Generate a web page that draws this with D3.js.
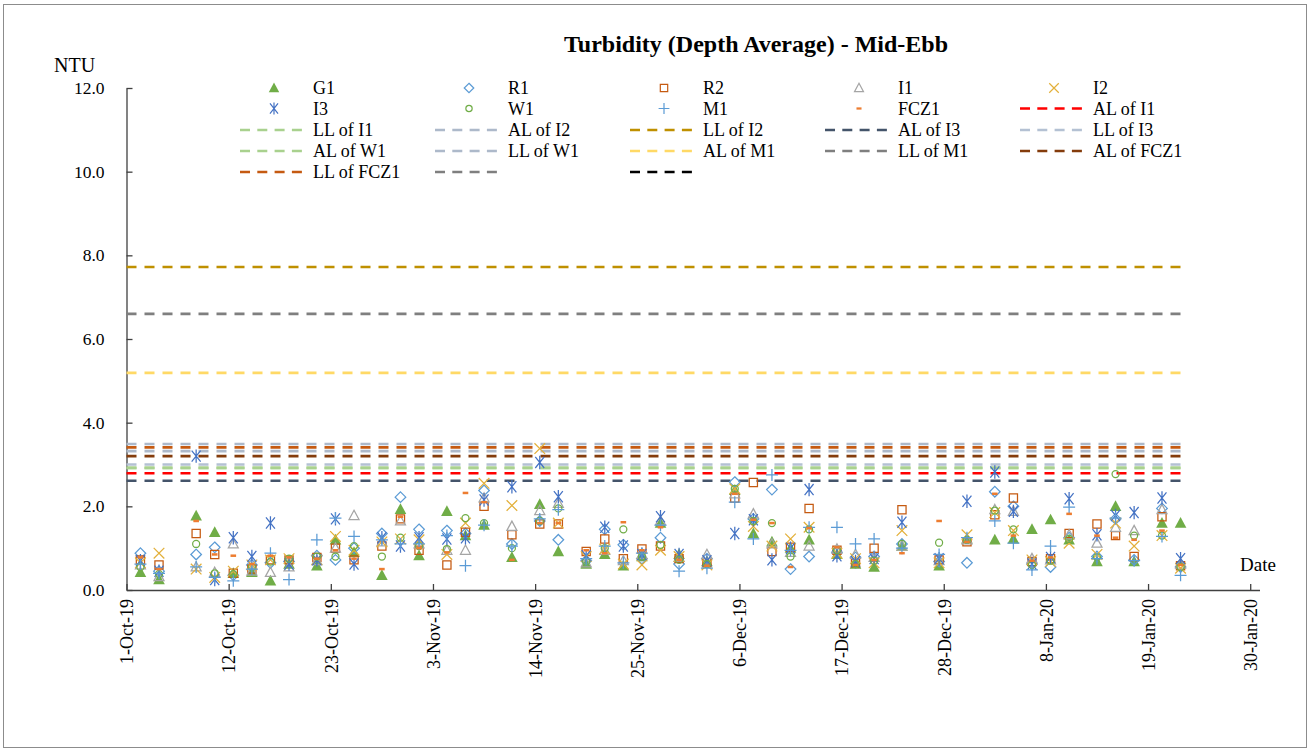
<!DOCTYPE html>
<html>
<head>
<meta charset="utf-8">
<script src="https://cdn.jsdelivr.net/npm/d3@7"></script>
<style>
  html, body { margin: 0; padding: 0; background: #fff; }
  svg { display: block; }
  text { font-family: "Liberation Serif", "Times New Roman", serif; fill: #000; }
</style>
</head>
<body>
<svg id="chart" width="1314" height="751"></svg>
<script>
// Sampling dates (mid-ebb monitoring)
const sampleDates = ["2019-10-02","2019-10-04","2019-10-08","2019-10-10","2019-10-12","2019-10-14","2019-10-16","2019-10-18","2019-10-21","2019-10-23","2019-10-25","2019-10-28","2019-10-30","2019-11-01","2019-11-04","2019-11-06","2019-11-08","2019-11-11","2019-11-14","2019-11-16","2019-11-19","2019-11-21","2019-11-23","2019-11-25","2019-11-27","2019-11-29","2019-12-02","2019-12-05","2019-12-07","2019-12-09","2019-12-11","2019-12-13","2019-12-16","2019-12-18","2019-12-20","2019-12-23","2019-12-27","2019-12-30","2020-01-02","2020-01-04","2020-01-06","2020-01-08","2020-01-10","2020-01-13","2020-01-15","2020-01-17","2020-01-20","2020-01-22"];

// Depth-averaged turbidity (NTU) per station
const G1   = [0.42,0.25,1.77,1.38,0.40,0.42,0.22,0.62,0.58,1.20,0.90,0.35,1.93,0.82,1.88,1.30,1.55,0.78,2.05,0.92,0.62,0.85,0.58,0.80,1.60,0.85,0.68,2.38,1.35,1.15,1.00,1.20,0.85,0.62,0.55,1.05,0.58,1.22,1.20,1.22,1.45,1.68,1.20,0.68,2.00,0.68,1.60,1.60];
const R1   = [0.88,0.45,0.85,1.02,0.35,0.60,0.65,0.68,0.82,0.72,1.00,1.35,2.22,1.45,1.42,1.35,2.38,1.10,1.65,1.20,0.70,1.45,1.08,0.75,1.25,0.62,0.75,2.58,1.70,2.40,0.50,0.80,0.90,0.78,0.80,1.10,0.68,0.65,2.35,2.00,0.62,0.55,1.25,0.80,1.70,0.72,1.95,0.55];
const R2   = [0.72,0.60,1.35,0.85,0.40,0.50,0.72,0.72,0.78,1.00,0.72,1.05,1.70,0.95,0.60,1.38,2.00,1.32,1.58,1.58,0.92,1.22,0.75,0.98,1.05,0.75,0.65,2.20,2.57,0.92,1.02,1.95,0.95,0.65,1.00,1.92,0.72,1.15,1.80,2.20,0.68,0.75,1.35,1.58,1.30,0.80,1.75,0.58];
const I1   = [0.60,0.32,0.55,0.42,1.10,0.45,0.42,0.55,0.70,1.00,1.78,1.15,1.65,1.10,0.95,0.95,2.20,1.52,1.90,2.07,0.65,0.95,0.70,0.85,1.65,0.78,0.85,2.30,1.82,1.10,0.90,1.05,0.98,0.85,0.78,1.05,0.70,1.20,1.92,1.88,0.75,0.72,1.32,1.12,1.50,1.42,1.92,0.62];
const I2   = [0.65,0.88,0.50,0.30,0.45,0.60,0.72,0.75,0.72,1.28,0.95,1.15,1.22,1.20,0.85,1.60,2.55,2.02,3.38,1.60,0.80,0.98,0.62,0.60,0.95,0.80,0.60,2.42,1.52,1.05,1.22,1.50,0.88,0.75,0.65,1.42,0.65,1.32,1.85,1.42,0.72,0.68,1.12,0.85,1.60,1.05,1.30,0.52];
const I3   = [0.70,0.45,3.20,0.25,1.25,0.80,1.60,0.62,0.72,1.70,0.62,1.25,1.05,1.25,1.22,1.25,2.15,2.47,3.05,2.23,0.82,1.50,1.05,0.85,1.75,0.85,0.70,1.35,1.68,0.72,1.00,2.40,0.82,0.68,0.75,1.62,0.75,2.12,2.82,1.88,0.62,0.78,2.18,1.32,1.78,1.85,2.20,0.75];
const W1   = [0.55,0.38,1.10,0.40,0.38,0.55,0.68,0.75,0.80,0.80,1.05,0.80,1.25,1.05,0.98,1.72,1.60,1.00,1.65,1.95,0.68,1.00,1.45,0.80,1.08,0.72,0.62,2.42,1.65,1.60,0.80,1.45,0.95,0.62,0.70,1.10,1.13,1.20,1.90,1.45,0.60,0.70,1.22,0.78,2.77,1.30,1.30,0.55];
const M1   = [0.62,0.40,0.55,0.30,0.22,0.50,0.88,0.25,1.20,1.72,1.28,1.20,1.10,1.10,1.30,0.58,1.55,1.05,1.70,1.92,0.75,1.05,0.65,0.88,1.55,0.45,0.52,2.10,1.22,2.75,0.95,1.50,1.50,1.10,1.22,1.00,0.85,1.25,1.65,1.12,0.48,1.05,1.98,0.75,1.72,0.70,1.28,0.35];
const FCZ1 = [0.78,0.50,1.65,0.85,0.82,0.62,0.82,0.78,0.75,0.95,0.75,0.50,1.75,1.00,0.90,2.32,2.10,0.72,1.60,1.60,0.95,0.88,1.62,0.95,1.50,0.72,0.58,2.30,1.68,1.60,0.55,1.48,1.02,0.60,0.72,0.88,1.65,1.15,2.30,1.30,0.70,0.78,1.82,1.30,1.25,1.20,1.42,0.60];

// Action / Limit levels (NTU)
const levelNames  = ["AL of I1","LL of I1","AL of I2","LL of I2","AL of I3","LL of I3","AL of W1","LL of W1","AL of M1","LL of M1","AL of FCZ1","LL of FCZ1","",""];
const levelValues = [2.79,2.92,3.49,7.72,2.61,3.00,2.92,3.32,5.19,6.60,3.20,3.41,null,null];
const levelSpan   = ["2019-10-01","2020-01-22T20:00"];

// Axis ticks
const yTicks = [0,2,4,6,8,10,12];
const xTickDates = ["2019-10-01","2019-10-12","2019-10-23","2019-11-03","2019-11-14","2019-11-25","2019-12-06","2019-12-17","2019-12-28","2020-01-08","2020-01-19","2020-01-30"];
const xTickLabels = ["1-Oct-19","12-Oct-19","23-Oct-19","3-Nov-19","14-Nov-19","25-Nov-19","6-Dec-19","17-Dec-19","28-Dec-19","8-Jan-20","19-Jan-20","30-Jan-20"];

const parse = s => new Date(s.length > 10 ? s : s + "T00:00");

// Marker glyphs (size = half-width in px)
const glyph = {
  triangle: { draw(c, r) { c.moveTo(0, -r * 1.05); c.lineTo(r, r * 0.8); c.lineTo(-r, r * 0.8); c.closePath(); } },
  diamond:  { draw(c, r) { c.moveTo(0, -r); c.lineTo(r, 0); c.lineTo(0, r); c.lineTo(-r, 0); c.closePath(); } },
  square:   { draw(c, r) { c.rect(-r, -r, 2 * r, 2 * r); } },
  times:    { draw(c, r) { c.moveTo(-r, -r); c.lineTo(r, r); c.moveTo(r, -r); c.lineTo(-r, r); } },
  asterisk: { draw(c, r) { c.moveTo(-r * 0.8, -r); c.lineTo(r * 0.8, r); c.moveTo(r * 0.8, -r); c.lineTo(-r * 0.8, r); c.moveTo(0, -r * 1.2); c.lineTo(0, r * 1.2); } },
  circle:   { draw(c, r) { c.moveTo(r, 0); c.arc(0, 0, r, 0, 2 * Math.PI); } },
  plus:     { draw(c, r) { c.moveTo(-r, 0); c.lineTo(r, 0); c.moveTo(0, -r); c.lineTo(0, r); } },
  dash:     { draw(c, r) { c.rect(-r, -r * 0.45, 2 * r, r * 0.9); } }
};

const stations = [
  { name: "G1",   values: G1,   shape: "triangle", r: 5.8, fill: "#70ad47", stroke: "none" },
  { name: "R1",   values: R1,   shape: "diamond",  r: 5.3, fill: "none", stroke: "#5b9bd5" },
  { name: "R2",   values: R2,   shape: "square",   r: 4.1, fill: "none", stroke: "#c55a11" },
  { name: "I1",   values: I1,   shape: "triangle", r: 5.0, fill: "none", stroke: "#a5a5a5" },
  { name: "I2",   values: I2,   shape: "times",    r: 5.3, fill: "none", stroke: "#e3b03a" },
  { name: "I3",   values: I3,   shape: "asterisk", r: 5.6, fill: "none", stroke: "#4472c4" },
  { name: "W1",   values: W1,   shape: "circle",   r: 3.5, fill: "none", stroke: "#70ad47" },
  { name: "M1",   values: M1,   shape: "plus",     r: 6.0, fill: "none", stroke: "#5b9bd5" },
  { name: "FCZ1", values: FCZ1, shape: "dash",     r: 2.8, fill: "#ed7d31", stroke: "none" }
];
const levelColors = ["#ff0000","#a9d18e","#adb9ca","#bf9000","#44546a","#b4c1d3","#a9d18e","#adb9ca","#ffd966","#7f7f7f","#843c0c","#c55a11","#7f7f7f","#000000"];

const svg = d3.select("#chart");

// Chart frame
svg.append("rect").attr("x", 3.5).attr("y", 4.5).attr("width", 1303).attr("height", 743)
  .attr("fill", "#fff").attr("stroke", "#8c8c8c").attr("stroke-width", 1);

const x = d3.scaleTime().domain([parse("2019-10-01"), parse("2020-01-31")]).range([126.5, 1259.5]);
const y = d3.scaleLinear().domain([0, 12]).range([590, 88]);
const halfDay = 12 * 3600 * 1000;
const xc = s => x(new Date(parse(s).getTime() + halfDay));

// Title
svg.append("text").attr("x", 756).attr("y", 52).attr("text-anchor", "middle")
  .style("font-size", "24px").style("font-weight", "bold")
  .text("Turbidity (Depth Average) - Mid-Ebb");

// Y axis
const yAxis = d3.axisLeft(y).tickValues(yTicks).tickFormat(d3.format(".1f"))
  .tickSizeInner(-6).tickSizeOuter(0).tickPadding(22);
const gy = svg.append("g").attr("transform", "translate(126.5,0)").call(yAxis);
gy.select(".domain").attr("stroke", "#404040").attr("stroke-width", 1.3);
gy.selectAll(".tick line").attr("stroke", "#404040").attr("stroke-width", 1.3);
gy.selectAll(".tick text").style("font-size", "17.5px").style("font-family", "Liberation Serif").attr("fill", "#000");

// X axis
const xAxis = d3.axisBottom(x).tickValues(xTickDates.map(parse))
  .tickFormat((d, i) => xTickLabels[i]).tickSizeInner(-6).tickSizeOuter(0);
const gx = svg.append("g").attr("transform", "translate(0,590)").call(xAxis);
gx.select(".domain").attr("stroke", "#404040").attr("stroke-width", 1.3);
gx.selectAll(".tick line").attr("stroke", "#404040").attr("stroke-width", 1.3);
gx.selectAll(".tick text")
  .style("font-size", "18px").style("font-family", "Liberation Serif").attr("fill", "#000")
  .attr("transform", "rotate(-90)").attr("text-anchor", "end")
  .attr("x", -9).attr("y", 0).attr("dy", "0.35em");

// Axis captions
svg.append("text").attr("x", 54).attr("y", 72).style("font-size", "20px").text("NTU");
svg.append("text").attr("x", 1240).attr("y", 571).style("font-size", "19px").text("Date");

// Action / limit level lines
const levelG = svg.append("g");
levelValues.forEach((v, i) => {
  if (v == null) return;
  levelG.append("line")
    .attr("x1", x(parse(levelSpan[0]))).attr("x2", x(parse(levelSpan[1])))
    .attr("y1", y(v)).attr("y2", y(v))
    .attr("stroke", levelColors[i]).attr("stroke-width", 2.6)
    .attr("stroke-dasharray", "10,8");
});

// Station markers
const sym = (shape, r) => d3.symbol().type(glyph[shape]).size(r);
stations.forEach(st => {
  svg.append("g").selectAll("path")
    .data(st.values.map((v, i) => ({ d: sampleDates[i], v })).filter(p => p.v != null))
    .join("path")
    .attr("transform", p => `translate(${xc(p.d)},${y(p.v)})`)
    .attr("d", sym(st.shape, st.r))
    .attr("fill", st.fill).attr("stroke", st.stroke).attr("stroke-width", 1.25);
});

// Legend: 5 columns
const colX = [240, 435, 630, 825, 1020];
const rowY = [88, 108.5, 130, 151, 172];
const legendItems = stations.map(s => ({ kind: "marker", s }))
  .concat(levelNames.map((n, i) => ({ kind: "line", name: n, color: levelColors[i] })));
const lg = svg.append("g");
legendItems.forEach((item, k) => {
  const cx = colX[k % 5], cy = rowY[Math.floor(k / 5)];
  const g = lg.append("g").attr("transform", `translate(${cx},${cy})`);
  if (item.kind === "marker") {
    g.append("path").attr("transform", "translate(34,0)")
      .attr("d", sym(item.s.shape, item.s.r * 0.9))
      .attr("fill", item.s.fill).attr("stroke", item.s.stroke).attr("stroke-width", 1.2);
    g.append("text").attr("x", 73).attr("dy", "0.35em").style("font-size", "18px").text(item.s.name);
  } else {
    g.append("line").attr("x1", 0).attr("x2", 62).attr("y1", 0).attr("y2", 0)
      .attr("stroke", item.color).attr("stroke-width", 2.6).attr("stroke-dasharray", "10,7.3");
    g.append("text").attr("x", 73).attr("dy", "0.35em").style("font-size", "18px").text(item.name);
  }
});
</script>
</body>
</html>
